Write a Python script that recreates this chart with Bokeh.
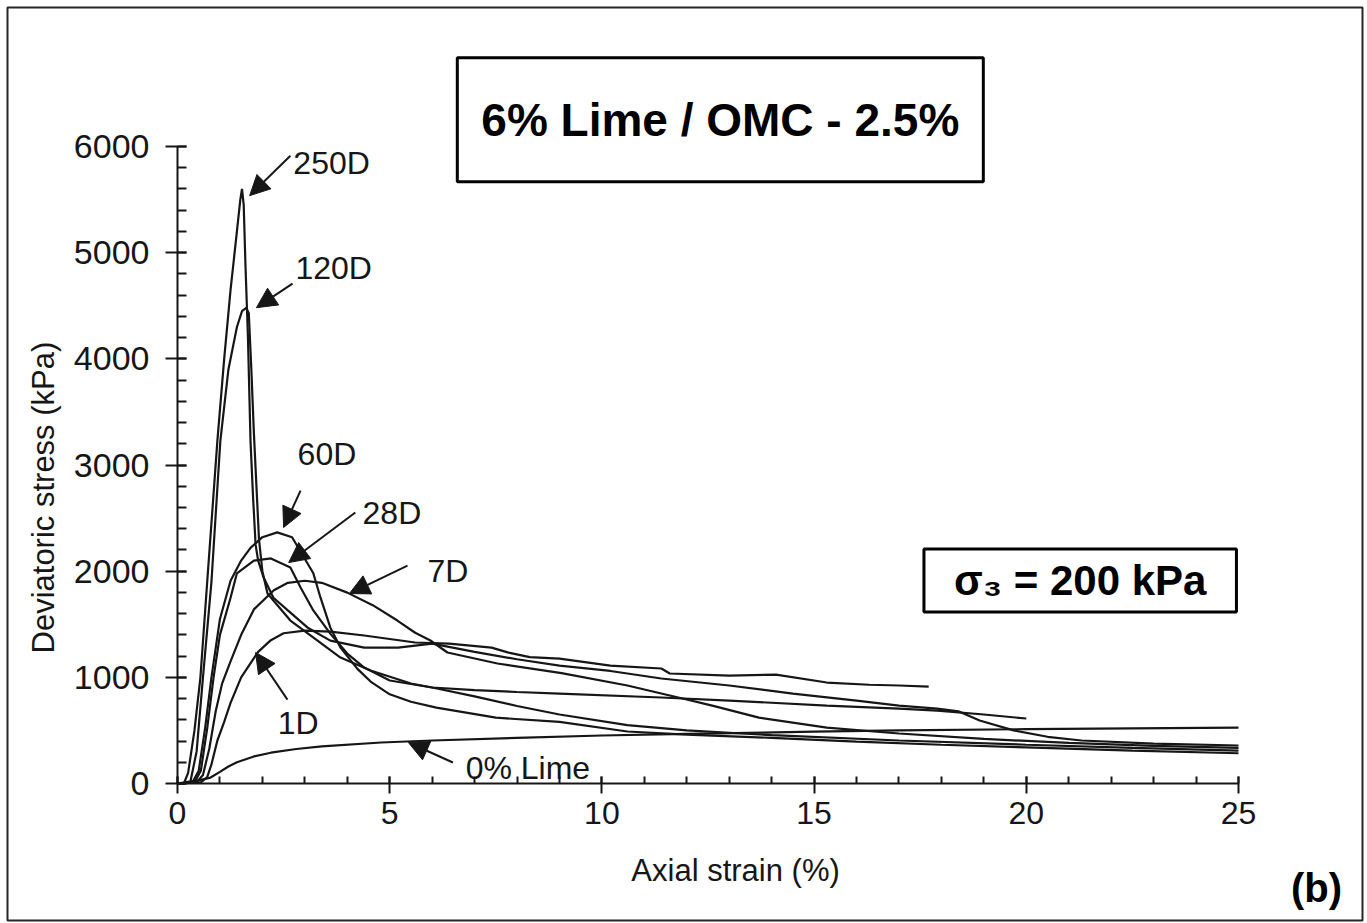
import math
from bokeh.plotting import figure
from bokeh.models import Label, Arrow, NormalHead, Range1d, FixedTicker, BoxAnnotation, LinearAxis
from bokeh.embed import file_html
from bokeh.resources import INLINE

# ---------------- data ----------------
x_ticks = [0, 5, 10, 15, 20, 25]
y_ticks = [0, 1000, 2000, 3000, 4000, 5000, 6000]

strain_0 = [0, 0.24, 0.5, 0.78, 1.0, 1.2, 1.4, 1.8, 2.2, 2.8, 3.4, 4.8, 6.0, 8.0, 10.0, 12.0, 15.0, 17.0, 20.0, 22.5, 25.0]
stress_0 = [0, 15, 30, 56, 110, 160, 200, 255, 290, 325, 350, 386, 405, 430, 452, 468, 488, 500, 512, 520, 527]

strain_1d = [0, 0.55, 0.7, 0.8, 0.94, 1.1, 1.25, 1.5, 1.9, 2.2, 2.5, 3.0, 3.6, 4.4, 5.6, 6.4, 7.4, 7.8, 8.3, 9.0, 10.2, 11.4, 11.6, 13.0, 14.1, 15.3, 16.3, 17.0, 17.7]
stress_1d = [0, 10, 60, 180, 405, 580, 760, 1000, 1240, 1350, 1415, 1440, 1430, 1394, 1328, 1318, 1280, 1233, 1190, 1177, 1111, 1083, 1036, 1017, 1026, 951, 930, 923, 913]

strain_7d = [0, 0.45, 0.6, 0.75, 0.9, 1.05, 1.25, 1.5, 1.8, 2.27, 2.6, 3.0, 3.4, 4.0, 4.6, 5.18, 5.6, 5.96, 6.36, 7.54, 9.05, 10.6, 11.8, 12.6, 13.7, 15.3, 17.0, 19.0, 21.0, 23.0, 25.0]
stress_7d = [0, 10, 80, 330, 680, 940, 1150, 1400, 1640, 1820, 1890, 1910, 1890, 1798, 1680, 1535, 1420, 1347, 1234, 1130, 1040, 923, 810, 734, 621, 527, 471, 420, 382, 355, 335]

strain_28d = [0, 0.4, 0.55, 0.7, 0.85, 1.0, 1.25, 1.4, 1.8, 2.2, 2.66, 2.9, 3.2, 3.6, 4.0, 4.4, 5.0, 6.0, 7.0, 8.0, 9.0, 10.6, 12.0, 14.0, 17.0, 20.0, 22.5, 25.0]
stress_28d = [0, 10, 120, 520, 1000, 1400, 1750, 1980, 2100, 2120, 2034, 1846, 1630, 1412, 1224, 1092, 970, 904, 820, 730, 650, 550, 500, 455, 405, 365, 335, 310]

strain_60d = [0, 0.35, 0.5, 0.65, 0.8, 1.0, 1.25, 1.5, 1.72, 2.0, 2.35, 2.7, 2.95, 3.2, 3.37, 3.6, 3.84, 4.24, 4.55, 5.0, 5.5, 6.1, 7.5, 9.0, 10.6, 12.0, 14.0, 16.0, 18.0, 20.0, 22.5, 25.0]
stress_60d = [0, 10, 120, 520, 1000, 1550, 1910, 2100, 2220, 2320, 2365, 2320, 2150, 1980, 1750, 1470, 1280, 1080, 960, 840, 770, 715, 620, 580, 490, 460, 430, 395, 365, 340, 310, 285]

strain_120d = [0, 0.3, 0.45, 0.6, 0.8, 1.01, 1.2, 1.4, 1.52, 1.62, 1.68, 1.74, 1.8, 1.86, 1.92, 2.0, 2.12, 2.66, 3.3, 3.84, 4.55, 5.5, 6.0, 7.0, 8.0, 9.0, 11.4, 13.0, 15.3, 17.0, 17.9, 19.0, 20.0]
stress_120d = [0, 10, 300, 1000, 1900, 3230, 3900, 4300, 4450, 4480, 4430, 3900, 3300, 2800, 2300, 2000, 1790, 1535, 1346, 1186, 1064, 942, 904, 880, 862, 847, 810, 781, 734, 706, 687, 650, 612]

strain_250d = [0, 0.15, 0.25, 0.4, 0.54, 0.7, 0.94, 1.1, 1.25, 1.4, 1.48, 1.52, 1.56, 1.6, 1.66, 1.72, 1.78, 1.84, 1.9, 2.03, 2.26, 2.6, 3.06, 3.6, 4.4, 5.2, 6.0, 7.0, 8.0, 9.0, 10.2, 11.4, 13.0, 14.5, 16.0, 17.0, 17.9, 18.4, 18.9, 19.7, 20.5, 21.3, 23.0, 25.0]
stress_250d = [0, 0, 100, 500, 1000, 1900, 3230, 4000, 4650, 5200, 5500, 5600, 5450, 4900, 4200, 3230, 2700, 2250, 2100, 1940, 1750, 1630, 1470, 1346, 1280, 1280, 1318, 1240, 1170, 1111, 1060, 989, 923, 847, 780, 734, 706, 680, 593, 500, 440, 405, 375, 358]

series = [
    (strain_0, stress_0),
    (strain_1d, stress_1d),
    (strain_7d, stress_7d),
    (strain_28d, stress_28d),
    (strain_60d, stress_60d),
    (strain_120d, stress_120d),
    (strain_250d, stress_250d),
]

# curve labels: text, label anchor (left, baseline), arrow start, arrow tip (data units)
curve_labels = [
    ("250D", (2.73, 5847), (2.66, 5913), (1.70, 5537)),
    ("120D", (2.78, 4858), (2.71, 4708), (1.86, 4482)),
    ("60D", (2.83, 3107), (2.90, 2759), (2.50, 2411)),
    ("28D", (4.36, 2551), (4.19, 2552), (2.62, 2081)),
    ("7D", (5.89, 2005), (5.42, 2053), (4.05, 1789)),
    ("1D", (2.36, 574), (2.59, 790), (1.84, 1234)),
    ("0% Lime", (6.79, 150), (6.49, 198), (5.44, 386)),
]

FONT = "Liberation Sans"
INK = "#161616"

# the frame covers the whole picture; axes are pinned at x=0 / y=0
PX_X = 1061 / 25.0
PX_Y = 637 / 6000.0
p = figure(width=1367, height=923,
           x_range=Range1d(-177 / PX_X, 1190 / PX_X),
           y_range=Range1d(-140 / PX_Y, 783 / PX_Y),
           x_axis_location=None, y_axis_location=None,
           output_backend="svg", toolbar_location=None,
           min_border=0, min_border_left=0, min_border_right=0,
           min_border_top=0, min_border_bottom=0)
p.xgrid.visible = False
p.ygrid.visible = False
p.outline_line_color = None
p.background_fill_color = "white"
p.border_fill_color = "white"

xaxis = LinearAxis(fixed_location=0, bounds=(0, 25),
                   ticker=FixedTicker(ticks=x_ticks, minor_ticks=list(range(0, 26))))
yaxis = LinearAxis(fixed_location=0, bounds=(0, 6000),
                   ticker=FixedTicker(ticks=y_ticks, minor_ticks=list(range(0, 6001, 200))))
for ax in (xaxis, yaxis):
    ax.axis_line_color = INK
    ax.axis_line_width = 2
    ax.major_tick_line_color = INK
    ax.major_tick_line_width = 2
    ax.minor_tick_line_color = INK
    ax.minor_tick_line_width = 2
    ax.major_label_text_font = FONT
    ax.major_label_text_color = INK
    ax.minor_tick_out = 0
xaxis.major_label_text_font_size = "32px"
yaxis.major_label_text_font_size = "34px"
xaxis.major_tick_in = 7
xaxis.major_tick_out = 10
xaxis.minor_tick_in = 7
xaxis.major_label_standoff = 8
yaxis.major_tick_in = 9
yaxis.major_tick_out = 12
yaxis.minor_tick_in = 9
yaxis.major_label_standoff = 16
p.add_layout(xaxis, "below")
p.add_layout(yaxis, "left")

for xs, ys in series:
    p.line(xs, ys, line_color=INK, line_width=2.2)

for text, (lx, ly), (sx, sy), (ex, ey) in curve_labels:
    p.add_layout(Label(x=lx, y=ly, text=text, text_font=FONT, text_font_size="32px",
                       text_color=INK, text_align="left", text_baseline="alphabetic"))
    p.add_layout(Arrow(x_start=sx, y_start=sy, x_end=ex, y_end=ey,
                       line_color=INK, line_width=2,
                       end=NormalHead(size=20, fill_color=INK, line_color=INK, line_width=1)))

# axis titles
p.add_layout(Label(x=-3.16, y=2693, text="Deviatoric stress (kPa)", angle=math.pi / 2,
                   text_font=FONT, text_font_size="31px", text_color=INK,
                   text_align="center", text_baseline="middle"))
p.add_layout(Label(x=13.15, y=-819, text="Axial strain (%)",
                   text_font=FONT, text_font_size="31px", text_color=INK,
                   text_align="center", text_baseline="middle"))

# boxed titles
p.add_layout(Label(x=12.79, y=6252, text="6% Lime / OMC - 2.5%",
                   text_font=FONT, text_font_size="46px", text_font_style="bold",
                   text_color="black", text_align="center", text_baseline="middle",
                   border_line_color="black", border_line_width=3,
                   background_fill_color="white",
                   padding=dict(left=24, right=24, top=36, bottom=36)))
p.add_layout(Label(x=21.27, y=1912, text="σ₃ = 200 kPa",
                   text_font=FONT, text_font_size="42px", text_font_style="bold",
                   text_color="black", text_align="center", text_baseline="middle",
                   border_line_color="black", border_line_width=3,
                   background_fill_color="white",
                   padding=dict(left=30, right=30, top=8, bottom=8)))
p.add_layout(Label(x=26.84, y=-989, text="(b)",
                   text_font=FONT, text_font_size="40px", text_font_style="bold",
                   text_color="black", text_align="center", text_baseline="alphabetic"))

# outer frame of the whole picture
p.add_layout(BoxAnnotation(left=-170 / PX_X, right=1185 / PX_X,
                           top=776 / PX_Y, bottom=-137 / PX_Y,
                           fill_color=None, fill_alpha=0,
                           line_color="#262626", line_alpha=1.0, line_width=2))

open("out.html", "w").write(file_html(p, INLINE))
